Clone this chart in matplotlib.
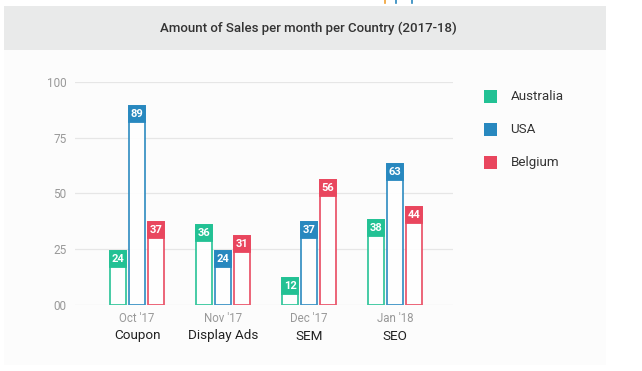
import numpy as np
import matplotlib
matplotlib.use('Agg')
import matplotlib.pyplot as plt
from matplotlib.patches import Rectangle
from matplotlib.lines import Line2D

# data
categories = ['Coupon', 'Display Ads', 'SEM', 'SEO']
months = ["Oct '17", "Nov '17", "Dec '17", "Jan '18"]
australia = [24, 36, 12, 38]
usa = [89, 24, 37, 63]
belgium = [37, 31, 56, 44]
countries = ['Australia', 'USA', 'Belgium']
colors = ['#22c194', '#2888bf', '#e9465e']
y_ticks = [0, 25, 50, 75, 100]
y_tick_labels = ['00', '25', '50', '75', '100']

plt.rcParams['font.family'] = ['Roboto', 'DejaVu Sans']

W, H = 642, 371
fig = plt.figure(figsize=(W / 100, H / 100), dpi=100)


# helpers to convert pixel positions (from top-left) into figure fractions
def fx(x):
    return x / W


def fy(y):
    return 1 - y / H


# card background and grey title bar
fig.add_artist(Rectangle((fx(4), fy(365)), fx(606) - fx(4), fy(50) - fy(365),
                         transform=fig.transFigure, facecolor='#fcfcfc', edgecolor='none', zorder=0))
fig.add_artist(Rectangle((fx(4), fy(50)), fx(606) - fx(4), fy(6) - fy(50),
                         transform=fig.transFigure, facecolor='#e9eaea', edgecolor='none', zorder=0))
fig.text(fx(308), fy(28), 'Amount of Sales per month per Country (2017-18)',
         ha='center', va='center', fontsize=9.5, fontweight='medium', color='#333333')

# small clipped marks at the very top of the screenshot
for x, c in [(385, '#f0a030'), (396, '#2a87be'), (412, '#2a87be')]:
    fig.add_artist(Line2D([fx(x), fx(x)], [fy(0), fy(3)], transform=fig.transFigure,
                          color=c, linewidth=1.2))

ax = fig.add_axes([fx(75), fy(305), (453 - 75) / W, (305 - 81.7) / H])
ax.set_facecolor('none')

series = [australia, usa, belgium]
x = np.arange(len(categories))
pitch = 0.221
width = 0.195
box_h = 7.2  # height of the coloured value box, in data units

for j, (vals, col) in enumerate(zip(series, colors)):
    xs = x + (j - 1) * pitch
    vals = np.array(vals)
    # hollow bar
    ax.bar(xs, vals, width=width, facecolor='white', edgecolor=col,
           linewidth=1.3, alpha=0.9, zorder=3)
    # filled label box at the top of the bar
    ax.bar(xs, box_h, bottom=vals - box_h, width=width, color=col,
           edgecolor=col, linewidth=1.3, zorder=4)
    for xi, v in zip(xs, vals):
        ax.text(xi, v - box_h / 2, str(v), ha='center', va='center',
                color='white', fontsize=8, fontweight='bold', zorder=5)

ax.set_xlim(-0.721, 3.674)
ax.set_ylim(0, 100)
ax.set_yticks(y_ticks)
ax.set_yticklabels(y_tick_labels)
ax.set_xticks([])
ax.tick_params(axis='y', length=0, pad=6, labelsize=8.5, labelcolor='#999999')
ax.grid(axis='y', color='#e6e6e6', linewidth=0.9, zorder=0)
for s in ax.spines.values():
    s.set_visible(False)

# month and category labels under each group
trans = ax.get_xaxis_transform()
for xi, m, cat in zip(x, months, categories):
    ax.text(xi, -14 / 223.3, m, transform=trans, ha='center', va='center',
            fontsize=8.3, color='#999999')
    ax.text(xi, -31 / 223.3, cat, transform=trans, ha='center', va='center',
            fontsize=9.7, color='#222222')

# legend drawn at the right
for k, (name, col) in enumerate(zip(countries, colors)):
    yc = 96.4 + 33 * k
    fig.add_artist(Rectangle((fx(484), fy(yc + 6.5)), 13 / W, 13 / H,
                             transform=fig.transFigure, facecolor=col, edgecolor='none'))
    fig.text(fx(510.5), fy(yc), name, ha='left', va='center', fontsize=9.6, color='#333333')

fig.savefig('out.png', dpi=100, facecolor='white')
